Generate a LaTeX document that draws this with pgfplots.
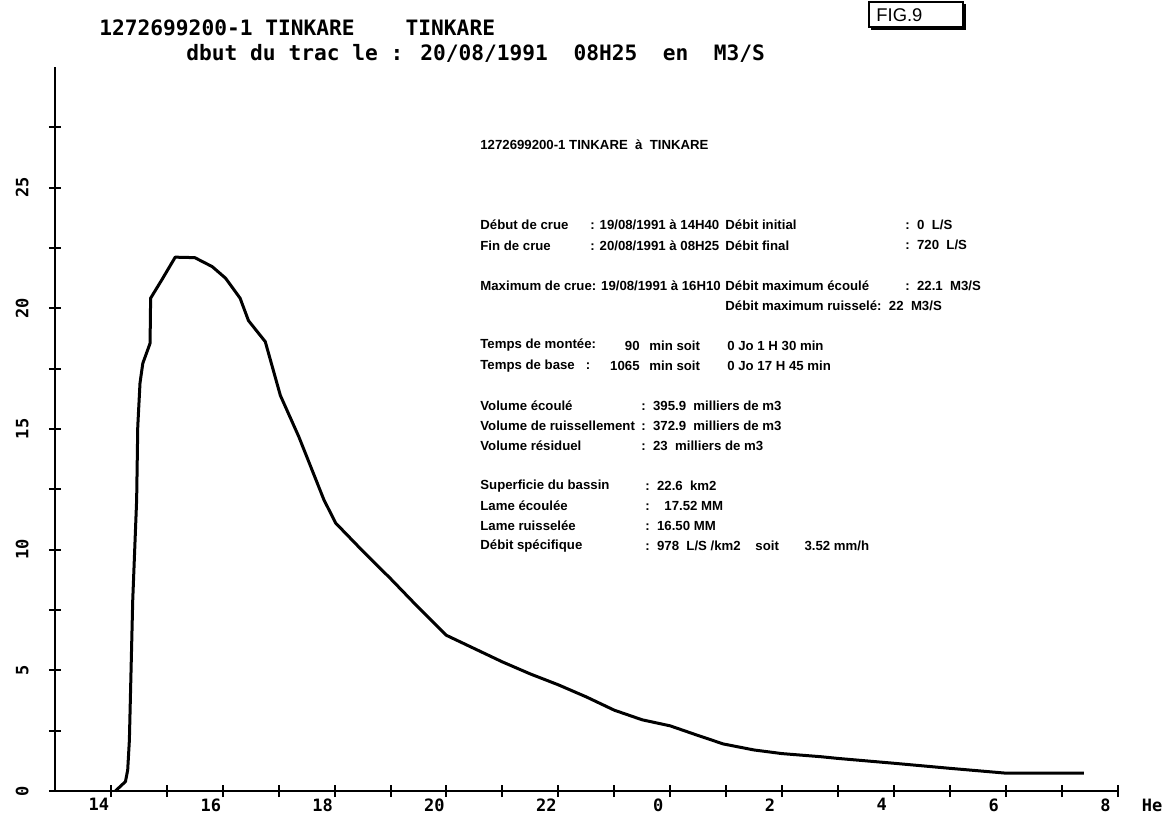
\documentclass[border=0pt]{standalone}
\usepackage{pgfplots}
\pgfplotsset{compat=1.18}
\usepackage{fontspec}
\setmainfont{Liberation Sans}
\newfontfamily\plotfont{DejaVu Sans Mono}
\newcommand\pfont{\plotfont\bfseries\fontsize{10.6}{12}\selectfont}
\newcommand\tfont{\plotfont\bfseries\fontsize{8.5}{10}\selectfont}
\newcommand\ifont{\bfseries\fontsize{6.6}{8}\selectfont}
\newcommand\info[3]{\node[anchor=west,inner sep=0pt,font=\ifont] at (#1,#2) {#3};}
\newcommand\infor[3]{\node[anchor=east,inner sep=0pt,font=\ifont] at (#1,#2) {#3};}
\begin{document}
\begin{tikzpicture}
\useasboundingbox (0,0) rectangle (583.5pt,-408.5pt);
\begin{axis}[
  at={(27.5pt,-395.5pt)}, anchor=south west,
  width=531.25pt, height=362pt, scale only axis,
  xmin=13, xmax=32, ymin=0, ymax=30,
  axis lines=left,
  axis line style={-, line width=1.2pt},
  xtick={14,...,32},
  xticklabels={14,,16,,18,,20,,22,,0,,2,,4,,6,,8},
  ytick={0,2.5,...,27.5},
  yticklabels={0,,5,,10,,15,,20,,25,},
  tick align=center, major tick length=6pt,
  tick style={line width=1pt, black},
  xticklabel style={font=\tfont, inner sep=0pt, xshift=-6pt},
  xticklabel shift=0.5pt,
  yticklabel style={font=\tfont, inner sep=0pt, rotate=90, anchor=south},
  yticklabel shift=10pt,
  clip=false,
]
\addplot[black, line width=1.5pt, line join=round] coordinates {
(14.08,0) (14.26,0.39) (14.30,0.87) (14.33,2.1) (14.39,7.9) (14.46,12.06)
(14.48,15.1) (14.52,16.9) (14.57,17.72) (14.70,18.55) (14.71,20.42)
(14.91,21.18) (15.15,22.12) (15.50,22.1) (15.81,21.73) (16.05,21.25)
(16.31,20.42) (16.46,19.49) (16.76,18.62) (17.03,16.39) (17.36,14.68)
(17.81,12.06) (18.02,11.1) (18.5,9.95) (19.0,8.8) (19.5,7.6) (20.0,6.45)
(20.5,5.9) (21.0,5.35) (21.5,4.85) (22.0,4.4) (22.5,3.9) (23.0,3.35)
(23.5,2.95) (24.0,2.7) (24.5,2.3) (24.95,1.95) (25.5,1.7) (26.0,1.55)
(26.7,1.42) (27.0,1.35) (28.0,1.15) (29.0,0.94) (30.0,0.74) (31.4,0.74)
};
\end{axis}
\begin{scope}[x=0.5pt,y=-0.5pt]
% titles
\node[anchor=west,inner sep=0pt,font=\pfont] at (99,28) {1272699200-1 TINKARE~~~~TINKARE};
\node[anchor=west,inner sep=0pt,font=\pfont] at (186,53) {dbut du trac le : 20/08/1991~~08H25~~en~~M3/S};
% FIG.9 box
\draw[line width=0.7pt] (869,2) rectangle (963,27);
\draw[line width=1.2pt] (965,4) -- (965,29) -- (871,29);
\node[anchor=west,inner sep=0pt,font=\fontsize{9.2}{11}\selectfont] at (876,15) {FIG.9};
% He
\node[inner sep=0pt,font=\tfont] at (1152,805) {He};
% info block
\info{480}{145}{1272699200-1 TINKARE~~à~~TINKARE}
\info{480}{225.2}{Début de crue}
\info{590}{225.2}{: 19/08/1991 à 14H40}
\info{725}{225.2}{Débit initial}
\info{905}{225.2}{:~~0~~L/S}
\info{480}{245.3}{Fin de crue}
\info{590}{245.3}{: 20/08/1991 à 08H25}
\info{725}{245.3}{Débit final}
\info{905}{245.3}{:~~720~~L/S}
\info{480}{285.4}{Maximum de crue: 19/08/1991 à 16H10}
\info{725}{285.4}{Débit maximum écoulé}
\info{905}{285.4}{:~~22.1~~M3/S}
\info{725}{305.4}{Débit maximum ruisselé:~~22~~M3/S}
\info{480}{345.5}{Temps de montée:}
\infor{640}{345.5}{90}
\info{649}{345.5}{min soit}
\info{727}{345.5}{0 Jo 1 H 30 min}
\info{480}{365.6}{Temps de base~~~:}
\infor{640}{365.6}{1065}
\info{649}{365.6}{min soit}
\info{727}{365.6}{0 Jo 17 H 45 min}
\info{480}{405.7}{Volume écoulé}
\info{641}{405.7}{:~~395.9~~milliers de m3}
\info{480}{425.7}{Volume de ruissellement}
\info{641}{425.7}{:~~372.9~~milliers de m3}
\info{480}{445.8}{Volume résiduel}
\info{641}{445.8}{:~~23~~milliers de m3}
\info{480}{485.9}{Superficie du bassin}
\info{645}{485.9}{:~~22.6~~km2}
\info{480}{505.9}{Lame écoulée}
\info{645}{505.9}{:~~~~17.52 MM}
\info{480}{526}{Lame ruisselée}
\info{645}{526}{:~~16.50 MM}
\info{480}{546}{Débit spécifique}
\info{645}{546}{:~~978~~L/S /km2~~~~soit~~~~~~~3.52 mm/h}
\end{scope}
\end{tikzpicture}
\end{document}
